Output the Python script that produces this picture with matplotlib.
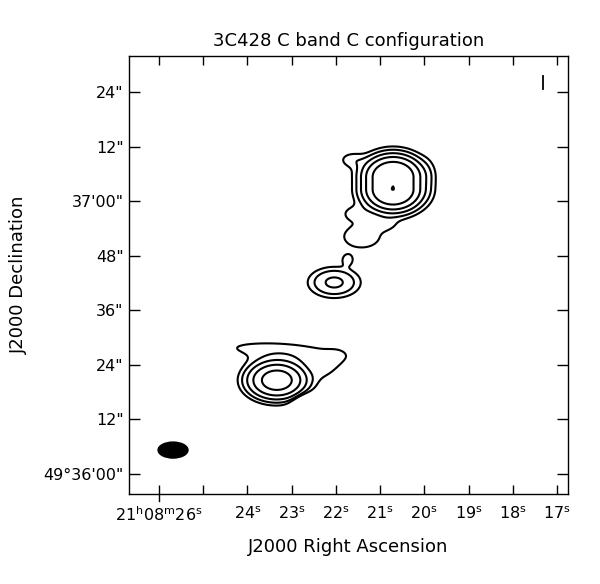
import numpy as np
import matplotlib
matplotlib.use("Agg")
import matplotlib.pyplot as plt
from matplotlib.patches import Ellipse
import matplotlib.transforms as mtransforms

# ---------------- text ----------------
title = "3C428 C band C configuration"
xlabel = "J2000 Right Ascension"
ylabel = "J2000 Declination"

# RA seconds of 21h08m (axis inverted), Dec arcsec above 49d36'00"
ra_ticks = [26, 25, 24, 23, 22, 21, 20, 19, 18, 17]
ra_labels = [r"21$^{\rm h}$08$^{\rm m}$26$^{\rm s}$", "", r"24$^{\rm s}$",
             r"23$^{\rm s}$", r"22$^{\rm s}$", r"21$^{\rm s}$", r"20$^{\rm s}$",
             r"19$^{\rm s}$", r"18$^{\rm s}$", r"17$^{\rm s}$"]
dec_ticks = [0, 12, 24, 36, 48, 60, 72, 84]
dec_labels = ['49\u00b036\'00"', '12"', '24"', '36"', '48"', '37\'00"', '12"', '24"']
ra_lim = (26.68, 16.75)
dec_lim = (-4.4, 91.9)

# ---------------- emission components (Gaussian) ----------------
# centre RA (s), centre Dec ("), peak, sigma major ("), sigma minor ("), angle (deg)
comp_ra    = [23.336, 23.156, 22.185, 22.704, 22.038, 21.734, 21.643, 21.418, 21.598, 20.740, 19.928, 20.898]
comp_dec   = [20.61, 26.97, 23.46, 14.69, 42.11, 47.15, 69.08, 52.19, 57.24, 62.72, 65.13, 54.82]
comp_amp   = [25.6, 1.4, 1.2, -4.0, 4.7, 1.5, 1.4, 1.8, 1.2, 0.4, 0.6, 1.0]
comp_smaj  = [3.38, 12.7, 2.63, 1.75, 3.31, 0.99, 1.97, 3.51, 2.19, 0.66, 1.32, 2.19]
comp_smin  = [2.19, 1.87, 1.54, 1.75, 1.95, 0.99, 1.20, 2.19, 1.32, 0.44, 3.07, 1.10]
comp_theta = [0.0, -4.0, 45.0, 0.0, 0.0, 0.0, 0.0, 0.0, 0.0, 0.0, 0.0, 0.0]

# northern lobe: flat-topped (Fermi) elongated core
core_ra, core_dec = 20.707, 63.93
core_amp = 33.0
core_r0, core_h = 4.41, 1.33
core_half_len, core_ystretch = 1.32, 0.75

levels = [1, 2, 4, 8, 16, 32]

# restoring beam
beam_ra, beam_dec = 25.684, 5.26
beam_width_s, beam_height_as = 0.677, 3.51

# small mark near top right
mark_ra = [17.309, 17.309]
mark_dec = [87.5, 84.65]

arcsec_per_s = 9.71

# ---------------- field ----------------
ra = np.linspace(16.5, 27.0, 1000)
dec = np.linspace(-6, 94, 1100)
RA, DEC = np.meshgrid(ra, dec)
field = np.zeros_like(RA)
for r0, d0, a, smaj, smin, th in zip(comp_ra, comp_dec, comp_amp, comp_smaj,
                                     comp_smin, comp_theta):
    dx = -(RA - r0) * arcsec_per_s
    dy = DEC - d0
    t = np.deg2rad(th)
    u = dx * np.cos(t) + dy * np.sin(t)
    v = -dx * np.sin(t) + dy * np.cos(t)
    field += a * np.exp(-0.5 * ((u / smaj) ** 2 + (v / smin) ** 2))

cdx = (RA - core_ra) * arcsec_per_s
cdy = np.maximum(np.abs(DEC - core_dec) - core_half_len, 0) / core_ystretch
rho = np.sqrt(cdx ** 2 + cdy ** 2)
field += core_amp / (1 + np.exp((rho - core_r0) / core_h))

# ---------------- figure ----------------
fig = plt.figure(figsize=(6.0, 5.84), dpi=100)
ax = fig.add_axes([129/600, 1-494/584, 439/600, 438/584])

ax.contour(RA, DEC, field, levels=levels, colors="black", linewidths=1.5)

ax.add_patch(Ellipse((beam_ra, beam_dec), beam_width_s, beam_height_as,
                     facecolor="black", edgecolor="black"))
ax.plot(mark_ra, mark_dec, color="black", lw=1.3)

ax.set_xlim(*ra_lim)
ax.set_ylim(*dec_lim)

ax.set_xticks(ra_ticks)
ax.set_xticklabels(ra_labels)
ax.set_yticks(dec_ticks)
ax.set_yticklabels(dec_labels)
ax.tick_params(axis="x", direction="in", length=6.5, width=1.0, top=True,
               labelsize=11.5, pad=8)
ax.tick_params(axis="y", direction="in", length=8, width=1.0, right=True,
               labelsize=11.5, pad=4)
for s in ax.spines.values():
    s.set_linewidth(1.0)

# long tick at 26s crossing the bottom axis
trans = mtransforms.blended_transform_factory(ax.transData, ax.transAxes)
ax.plot([ra_ticks[0], ra_ticks[0]], [0, -0.017], transform=trans,
        color="black", lw=1.0, clip_on=False)

ax.set_title(title, fontsize=13, pad=7)
ax.set_xlabel(xlabel, fontsize=13, labelpad=10)
ax.set_ylabel(ylabel, fontsize=13, labelpad=11)

fig.savefig("out.png", dpi=100)
